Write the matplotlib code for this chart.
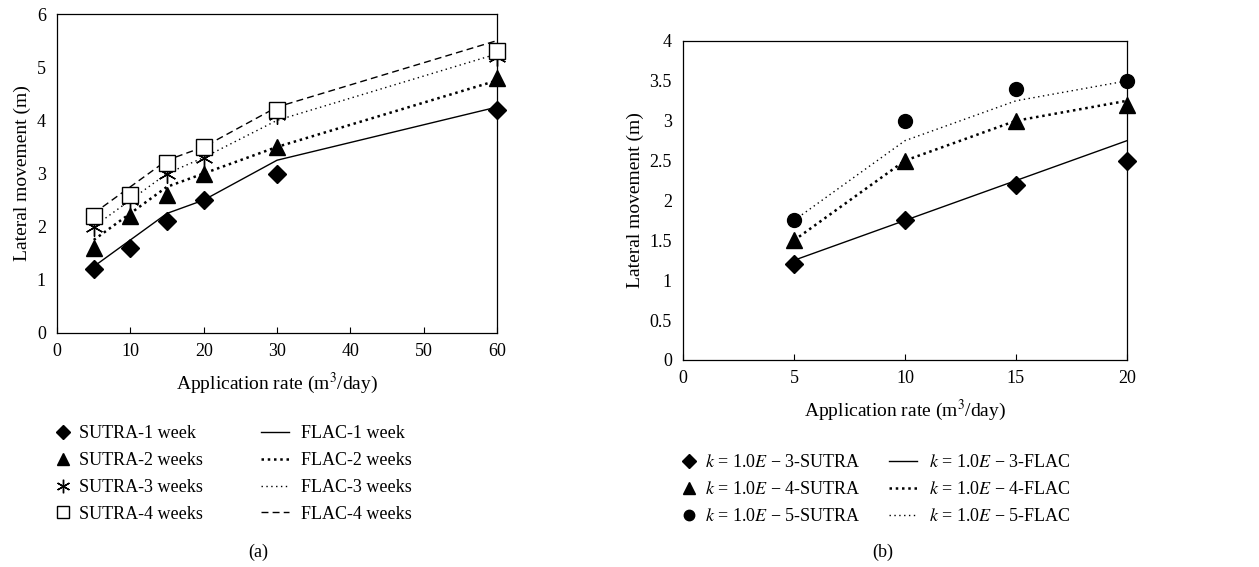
import numpy as np
import matplotlib
matplotlib.use("Agg")
import matplotlib.pyplot as plt
from matplotlib.lines import Line2D

plt.rcParams['font.family'] = ['Liberation Serif', 'DejaVu Serif']
plt.rcParams['mathtext.fontset'] = 'stix'
plt.rcParams['font.size'] = 13

# (a) application rate vs lateral movement, by duration
rate_a = [5, 10, 15, 20, 30, 60]
sutra_1w = [1.2, 1.6, 2.1, 2.5, 3.0, 4.2]
sutra_2w = [1.6, 2.2, 2.6, 3.0, 3.5, 4.8]
sutra_3w = [2.0, 2.5, 3.0, 3.3, 4.1, 5.2]
sutra_4w = [2.2, 2.6, 3.2, 3.5, 4.2, 5.3]
flac_1w = [1.25, 1.75, 2.25, 2.5, 3.25, 4.25]
flac_2w = [1.75, 2.25, 2.75, 3.0, 3.5, 4.75]
flac_3w = [2.0, 2.5, 3.0, 3.3, 4.0, 5.25]
flac_4w = [2.25, 2.75, 3.25, 3.5, 4.25, 5.5]
labels_a_sutra = ['SUTRA-1 week', 'SUTRA-2 weeks', 'SUTRA-3 weeks', 'SUTRA-4 weeks']
labels_a_flac = ['FLAC-1 week', 'FLAC-2 weeks', 'FLAC-3 weeks', 'FLAC-4 weeks']

# (b) application rate vs lateral movement, by permeability
rate_b = [5, 10, 15, 20]
sutra_k3 = [1.2, 1.75, 2.2, 2.5]
sutra_k4 = [1.5, 2.5, 3.0, 3.2]
sutra_k5 = [1.75, 3.0, 3.4, 3.5]
flac_k3 = [1.25, 1.75, 2.25, 2.75]
flac_k4 = [1.5, 2.5, 3.0, 3.25]
flac_k5 = [1.75, 2.75, 3.25, 3.5]
labels_b_sutra = ['$k$ = 1.0$E$ − 3-SUTRA', '$k$ = 1.0$E$ − 4-SUTRA', '$k$ = 1.0$E$ − 5-SUTRA']
labels_b_flac = ['$k$ = 1.0$E$ − 3-FLAC', '$k$ = 1.0$E$ − 4-FLAC', '$k$ = 1.0$E$ − 5-FLAC']

W, H = 1259, 567
fig = plt.figure(figsize=(W / 100, H / 100), dpi=100)
ax1 = fig.add_axes([0.0453, 0.4127, 0.3495, 0.5626])
ax2 = fig.add_axes([0.5425, 0.3651, 0.3526, 0.5626])

styles = [dict(ls='-', lw=1.0),
          dict(ls=(0, (1, 1.5)), lw=1.8),
          dict(ls=(0, (1, 2.5)), lw=1.0),
          dict(ls=(0, (5, 3)), lw=1.0)]
mk = [dict(marker='D', ms=9, mfc='k', mec='k'),
      dict(marker='^', ms=11, mfc='k', mec='k'),
      dict(marker=(6, 2, 0), ms=13, mfc='k', mec='k', mew=1.0),
      dict(marker='s', ms=11, mfc='white', mec='k', mew=1.0)]


def legend_pair(h_s, h_f, x_mk, x_ln, y_top):
    kw = dict(loc='upper left', frameon=False, borderpad=0, borderaxespad=0,
              labelspacing=0.55, fontsize=13)
    fig.legend(handles=h_s, bbox_to_anchor=(x_mk / W, 1 - y_top / H),
               handlelength=0.8, handletextpad=0.5, **kw)
    fig.legend(handles=h_f, bbox_to_anchor=(x_ln / W, 1 - y_top / H),
               handlelength=1.55, handletextpad=0.65, **kw)


h_s, h_f = [], []
for ys, yf, m, st, ls_, lf_ in zip([sutra_1w, sutra_2w, sutra_3w, sutra_4w],
                                   [flac_1w, flac_2w, flac_3w, flac_4w],
                                   mk, styles, labels_a_sutra, labels_a_flac):
    ax1.plot(rate_a, yf, color='k', **st)
    ax1.plot(rate_a, ys, ls='none', clip_on=False, zorder=5, **m)
    h_s.append(Line2D([], [], ls='none', label=ls_, **dict(m, ms=m['ms'] * 0.75)))
    h_f.append(Line2D([], [], color='k', label=lf_, **st))

ax1.set_xlim(0, 60)
ax1.set_ylim(0, 6)
ax1.set_xticks(np.arange(0, 61, 10))
ax1.set_yticks(np.arange(0, 7, 1))
ax1.set_xlabel('Application rate (m$^3$/day)', fontsize=14, labelpad=8)
ax1.set_ylabel('Lateral movement (m)', fontsize=14, labelpad=4)
legend_pair(h_s, h_f, 56, 261, 425)
fig.text(258 / W, 1 - 552 / H, '(a)', ha='center', va='center')

mk_b = [mk[0], mk[1], dict(marker='o', ms=10, mfc='k', mec='k')]
h_s, h_f = [], []
for ys, yf, m, st, ls_, lf_ in zip([sutra_k3, sutra_k4, sutra_k5],
                                   [flac_k3, flac_k4, flac_k5],
                                   mk_b, styles[:3], labels_b_sutra, labels_b_flac):
    ax2.plot(rate_b, yf, color='k', **st)
    ax2.plot(rate_b, ys, ls='none', clip_on=False, zorder=5, **m)
    h_s.append(Line2D([], [], ls='none', label=ls_, **dict(m, ms=m['ms'] * 0.75)))
    h_f.append(Line2D([], [], color='k', label=lf_, **st))

ax2.set_xlim(0, 20)
ax2.set_ylim(0, 4)
ax2.set_xticks(np.arange(0, 21, 5))
ax2.set_yticks(np.arange(0, 4.01, 0.5))
ax2.set_yticklabels(['0', '0.5', '1', '1.5', '2', '2.5', '3', '3.5', '4'])
ax2.set_xlabel('Application rate (m$^3$/day)', fontsize=14, labelpad=8)
ax2.set_ylabel('Lateral movement (m)', fontsize=14, labelpad=4)
legend_pair(h_s, h_f, 682, 889, 454)
fig.text(883 / W, 1 - 552 / H, '(b)', ha='center', va='center')

for ax in (ax1, ax2):
    ax.tick_params(axis='x', direction='in', length=4, width=0.8, pad=7, labelsize=13)
    ax.tick_params(axis='y', length=0, pad=8, labelsize=13)
    for s in ax.spines.values():
        s.set_linewidth(0.9)

fig.savefig('out.png', dpi=100)
